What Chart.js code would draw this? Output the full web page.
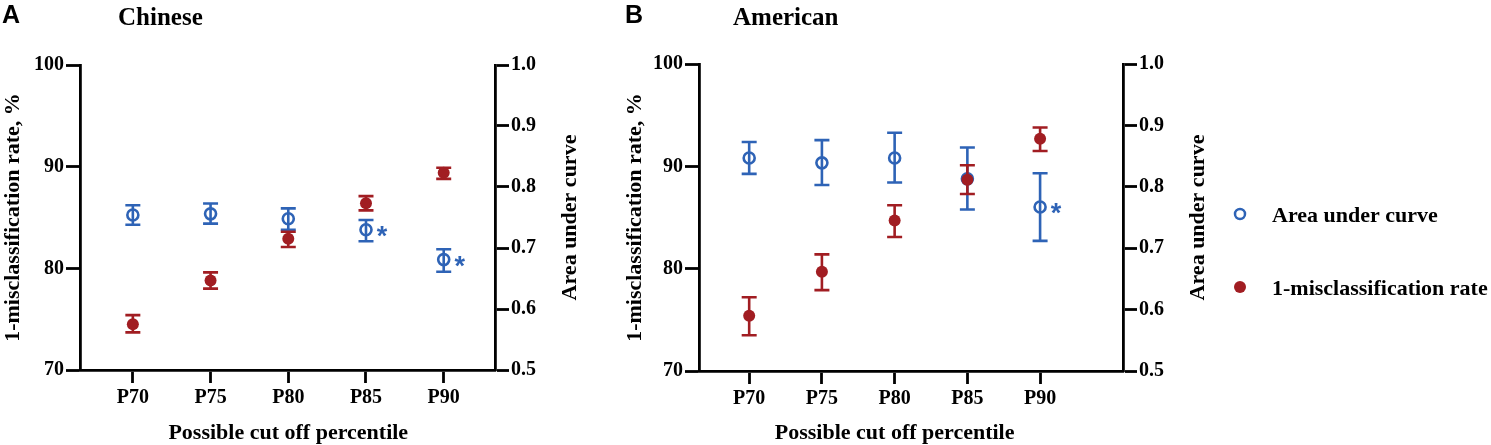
<!DOCTYPE html>
<html>
<head>
<meta charset="utf-8">
<script src="https://cdn.jsdelivr.net/npm/chart.js@4.4.1/dist/chart.umd.min.js"></script>
<style>
  html, body { margin: 0; padding: 0; background: #fff; }
  #wrap { position: relative; width: 1491px; height: 445px; overflow: hidden; background: #fff; }
  canvas { position: absolute; top: 0; }
</style>
</head>
<body>
<div id="wrap">
  <canvas id="cA" width="600" height="445" style="left:0px;width:600px;height:445px"></canvas>
  <canvas id="cB" width="869" height="445" style="left:622px;width:869px;height:445px"></canvas>
</div>
<script>
// ---------- data ----------
const categories = ['P70', 'P75', 'P80', 'P85', 'P90'];

// Panel A: Chinese
const aucChinese     = [0.754, 0.756, 0.748, 0.730, 0.681];
const aucChineseLow  = [0.738, 0.740, 0.730, 0.711, 0.661];
const aucChineseHigh = [0.770, 0.773, 0.765, 0.746, 0.698];
const rateChinese     = [74.5, 78.8, 82.9, 86.4, 89.4];
const rateChineseLow  = [73.7, 78.0, 82.1, 85.7, 88.8];
const rateChineseHigh = [75.4, 79.6, 83.6, 87.1, 89.9];
const starsChinese = ['', '', '', '*', '*'];

// Panel B: American
const aucAmerican     = [0.847, 0.839, 0.847, 0.813, 0.767];
const aucAmericanLow  = [0.821, 0.803, 0.807, 0.763, 0.712];
const aucAmericanHigh = [0.873, 0.876, 0.888, 0.864, 0.822];
const rateAmerican     = [75.4, 79.7, 84.7, 88.7, 92.7];
const rateAmericanLow  = [73.5, 77.9, 83.1, 87.3, 91.5];
const rateAmericanHigh = [77.2, 81.4, 86.2, 90.1, 93.8];
const starsAmerican = ['', '', '', '', '*'];

const leftTicks = [70, 80, 90, 100];
const rightTicks = [0.5, 0.6, 0.7, 0.8, 0.9, 1.0];

// ---------- styles ----------
const BLUE = '#2E63B6';
const RED = '#A11D22';
const SERIF = '"Liberation Serif", "Times New Roman", serif';
const SANS = '"Liberation Sans", Arial, sans-serif';
Chart.defaults.font.family = SERIF;
Chart.defaults.color = '#000';

const errPlugin = {
  id: 'errbars',
  beforeDatasetDraw(chart, args) {
    const ds = chart.data.datasets[args.index];
    const meta = args.meta;
    const ys = chart.scales[ds.yAxisID];
    const ctx = chart.ctx;
    ctx.save();
    ctx.strokeStyle = ds.borderColor;
    ctx.lineWidth = 2.6;
    ctx.lineCap = 'butt';
    meta.data.forEach((pt, i) => {
      const x = pt.x;
      const yl = ys.getPixelForValue(ds.errLow[i]);
      const yh = ys.getPixelForValue(ds.errHigh[i]);
      ctx.beginPath();
      ctx.moveTo(x, yl); ctx.lineTo(x, yh);
      ctx.moveTo(x - 7.5, yl); ctx.lineTo(x + 7.5, yl);
      ctx.moveTo(x - 7.5, yh); ctx.lineTo(x + 7.5, yh);
      ctx.stroke();
    });
    ctx.restore();
  }
};

const decorPlugin = {
  id: 'decor',
  afterDraw(chart) {
    const p = chart.options.plugins.decor;
    const ctx = chart.ctx;
    const area = chart.chartArea;
    const xs = chart.scales.x;
    ctx.save();
    ctx.fillStyle = '#000';
    // panel letter
    ctx.font = 'bold 25px ' + SANS;
    ctx.textAlign = 'left';
    ctx.textBaseline = 'alphabetic';
    ctx.fillText(p.letter, p.letterX, 23);
    // panel title
    ctx.font = 'bold 25px ' + SERIF;
    ctx.fillText(p.title, p.titleX, 25);
    // x title
    ctx.font = 'bold 22px ' + SERIF;
    ctx.textAlign = 'center';
    ctx.textBaseline = 'middle';
    ctx.fillText('Possible cut off percentile', xs.getPixelForValue(2), 433);
    // right axis title (reads bottom to top)
    ctx.save();
    ctx.translate(p.rightTitleX, (area.top + area.bottom) / 2);
    ctx.rotate(-Math.PI / 2);
    ctx.fillText('Area under curve', 0, 0);
    ctx.restore();
    // stars
    const aucDs = chart.data.datasets[0];
    const meta = chart.getDatasetMeta(0);
    ctx.fillStyle = BLUE;
    ctx.font = 'bold 27px ' + SANS;
    ctx.textAlign = 'center';
    ctx.textBaseline = 'alphabetic';
    meta.data.forEach((pt, i) => {
      if (aucDs.stars[i]) ctx.fillText(aucDs.stars[i], pt.x + 16, pt.y + 15);
    });
    // legend
    if (p.legend) {
      const L = p.legend;
      chart.data.datasets.forEach((ds, k) => {
        const cy = L.y[k];
        ctx.beginPath();
        if (ds.backgroundColor === 'rgba(0,0,0,0)') {
          ctx.strokeStyle = ds.borderColor;
          ctx.lineWidth = 2.5;
          ctx.arc(L.markerX, cy, 5, 0, Math.PI * 2);
          ctx.stroke();
        } else {
          ctx.fillStyle = ds.backgroundColor;
          ctx.arc(L.markerX, cy, 6, 0, Math.PI * 2);
          ctx.fill();
        }
        ctx.fillStyle = '#000';
        ctx.font = 'bold 22px ' + SERIF;
        ctx.textAlign = 'left';
        ctx.textBaseline = 'alphabetic';
        ctx.fillText(ds.label, L.textX, cy + 8);
      });
    }
    ctx.restore();
  }
};

function axisCommon(tickLen) {
  return {
    border: { color: '#000', width: 2.8 },
    grid: { drawOnChartArea: false, tickLength: tickLen, tickWidth: 2.8, tickColor: '#000' },
  };
}

function buildChart(el, p) {
  return new Chart(el, {
    type: 'scatter',
    data: {
      datasets: [
        {
          label: 'Area under curve',
          yAxisID: 'y2',
          data: p.auc.map((v, i) => ({ x: i, y: v })),
          errLow: p.aucLow, errHigh: p.aucHigh, stars: p.stars,
          pointStyle: 'circle', pointRadius: 5.5, pointBorderWidth: 2.6,
          borderColor: BLUE, backgroundColor: 'rgba(0,0,0,0)',
          pointHoverRadius: 5.5, order: 2
        },
        {
          label: '1-misclassification rate',
          yAxisID: 'y',
          data: p.rate.map((v, i) => ({ x: i, y: v })),
          errLow: p.rateLow, errHigh: p.rateHigh,
          pointStyle: 'circle', pointRadius: 6, pointBorderWidth: 0,
          borderColor: RED, backgroundColor: RED,
          pointHoverRadius: 6, order: 1
        }
      ]
    },
    options: {
      responsive: false,
      animation: false,
      events: [],
      layout: { padding: { top: p.top, left: 0, right: 0, bottom: 0 } },
      plugins: {
        legend: { display: false },
        tooltip: { enabled: false },
        decor: p.decor
      },
      scales: {
        x: Object.assign(axisCommon(13), {
          type: 'linear', min: p.xmin, max: p.xmax,
          afterFit: s => { s.height = p.xh; },
          afterBuildTicks: s => { s.ticks = categories.map((c, i) => ({ value: i })); },
          ticks: {
            autoSkip: false, maxRotation: 0, padding: 3,
            font: { size: 20, weight: 'bold', family: SERIF }, color: '#000',
            callback: v => (Number.isInteger(v) && categories[v]) ? categories[v] : ''
          }
        }),
        y: Object.assign(axisCommon(14), {
          position: 'left', min: leftTicks[0], max: leftTicks[leftTicks.length - 1],
          afterFit: s => { s.width = p.yw; },
          afterBuildTicks: s => { s.ticks = leftTicks.map(v => ({ value: v })); },
          ticks: { padding: 2, font: { size: 20, weight: 'bold', family: SERIF }, color: '#000' },
          title: {
            display: true, text: '1-misclassification rate, %', padding: 0,
            font: { size: 22, weight: 'bold', family: SERIF }, color: '#000'
          }
        }),
        y2: Object.assign(axisCommon(14), {
          position: 'right', min: rightTicks[0], max: rightTicks[rightTicks.length - 1],
          afterFit: s => { s.width = p.y2w; },
          afterBuildTicks: s => { s.ticks = rightTicks.map(v => ({ value: v })); },
          ticks: {
            padding: 2, font: { size: 20, weight: 'bold', family: SERIF }, color: '#000',
            callback: v => Number(v).toFixed(1)
          }
        })
      }
    },
    plugins: [errPlugin, decorPlugin]
  });
}

buildChart(document.getElementById('cA'), {
  auc: aucChinese, aucLow: aucChineseLow, aucHigh: aucChineseHigh,
  rate: rateChinese, rateLow: rateChineseLow, rateHigh: rateChineseHigh,
  stars: starsChinese,
  top: 65, xh: 75, yw: 80, y2w: 105, xmin: -0.68, xmax: 4.66,
  decor: { letter: 'A', letterX: 2, title: 'Chinese', titleX: 118, rightTitleX: 570 }
});

buildChart(document.getElementById('cB'), {
  auc: aucAmerican, aucLow: aucAmericanLow, aucHigh: aucAmericanHigh,
  rate: rateAmerican, rateLow: rateAmericanLow, rateHigh: rateAmericanHigh,
  stars: starsAmerican,
  top: 64, xh: 74, yw: 77, y2w: 368, xmin: -0.69, xmax: 5.14,
  decor: {
    letter: 'B', letterX: 3, title: 'American', titleX: 111, rightTitleX: 576,
    legend: { markerX: 618, textX: 650, y: [214, 287] }
  }
});
</script>
</body>
</html>
